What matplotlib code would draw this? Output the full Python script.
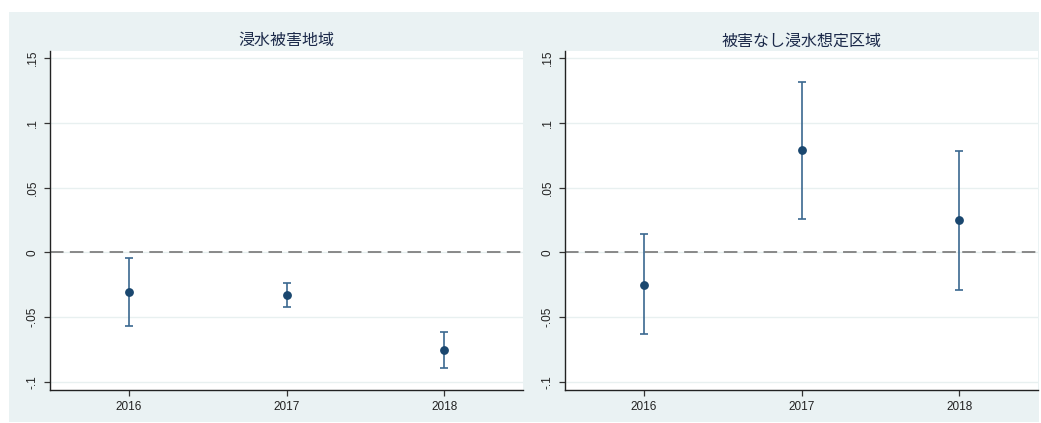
import numpy as np
import matplotlib.pyplot as plt
from matplotlib.patches import Rectangle

plt.rcParams['font.family'] = ['Liberation Sans', 'Noto Sans CJK JP', 'DejaVu Sans']

# event-study style estimates with confidence intervals
years = [2016, 2017, 2018]

titles = ['浸水被害地域', '被害なし浸水想定区域']

coef_flooded = [-0.0308, -0.0328, -0.0756]
lower_flooded = [-0.0569, -0.0418, -0.0895]
upper_flooded = [-0.0046, -0.0236, -0.0618]

coef_zone = [-0.0248, 0.0787, 0.0246]
lower_zone = [-0.0633, 0.0256, -0.0292]
upper_zone = [0.0138, 0.1315, 0.0785]

yticks = [-0.1, -0.05, 0, 0.05, 0.1, 0.15]
ytick_labels = ['-.1', '-.05', '0', '.05', '.1', '.15']

W, H = 1041, 423
BG = '#eaf2f3'
NAVY = '#1a476f'
CI_COLOR = '#3b6890'

fig = plt.figure(figsize=(W / 100, H / 100), dpi=100)
fig.patch.set_facecolor('white')

# shared light graph-region background, kept behind both axes
bg = Rectangle((9 / W, 1 - 422 / H), (1039 - 9) / W, (422 - 12) / H,
               transform=fig.transFigure, facecolor=BG,
               edgecolor='none', zorder=-10)
fig.add_artist(bg)


def panel(left_px, right_px, title, coef, lo, hi):
    top_px, bot_px = 51, 390
    ax = fig.add_axes([left_px / W, 1 - bot_px / H,
                       (right_px - left_px) / W, (bot_px - top_px) / H])
    ax.set_facecolor('white')
    ax.set_xlim(2015.5, 2018.5)
    ax.set_ylim(-0.1062, 0.1554)

    for y in yticks:
        ax.axhline(y, color='#e8f0f0', lw=1.0, zorder=1)
    ax.axhline(0, color='#808080', lw=1.3, ls=(0, (7.5, 3.5)), zorder=2)

    err = [np.array(coef) - np.array(lo), np.array(hi) - np.array(coef)]
    ax.errorbar(years, coef, yerr=err, fmt='none', ecolor=CI_COLOR,
                elinewidth=1.2, capsize=3.0, capthick=1.2, zorder=3)
    ax.plot(years, coef, 'o', color=NAVY, ms=5.3, zorder=4)

    ax.set_xticks(years)
    ax.set_xticklabels([str(y) for y in years], fontsize=8.5, color='#222222')
    ax.set_yticks(yticks)
    ax.set_yticklabels(ytick_labels, fontsize=8.5, color='#222222',
                       rotation=90, va='center')
    ax.tick_params(axis='both', length=4, width=0.9, color='#333333', pad=4)
    for s in ['top', 'right']:
        ax.spines[s].set_visible(False)
    for s in ['left', 'bottom']:
        ax.spines[s].set_color('#222222')
        ax.spines[s].set_linewidth(1.0)

    ax.set_title(title, fontsize=11.5, color='#1c2a4a', pad=4,
                 family=['Noto Sans CJK JP', 'DejaVu Sans'])
    return ax


panel(50, 523, titles[0], coef_flooded, lower_flooded, upper_flooded)
panel(565, 1038, titles[1], coef_zone, lower_zone, upper_zone)

fig.savefig('out.png', dpi=100, facecolor=fig.get_facecolor())
